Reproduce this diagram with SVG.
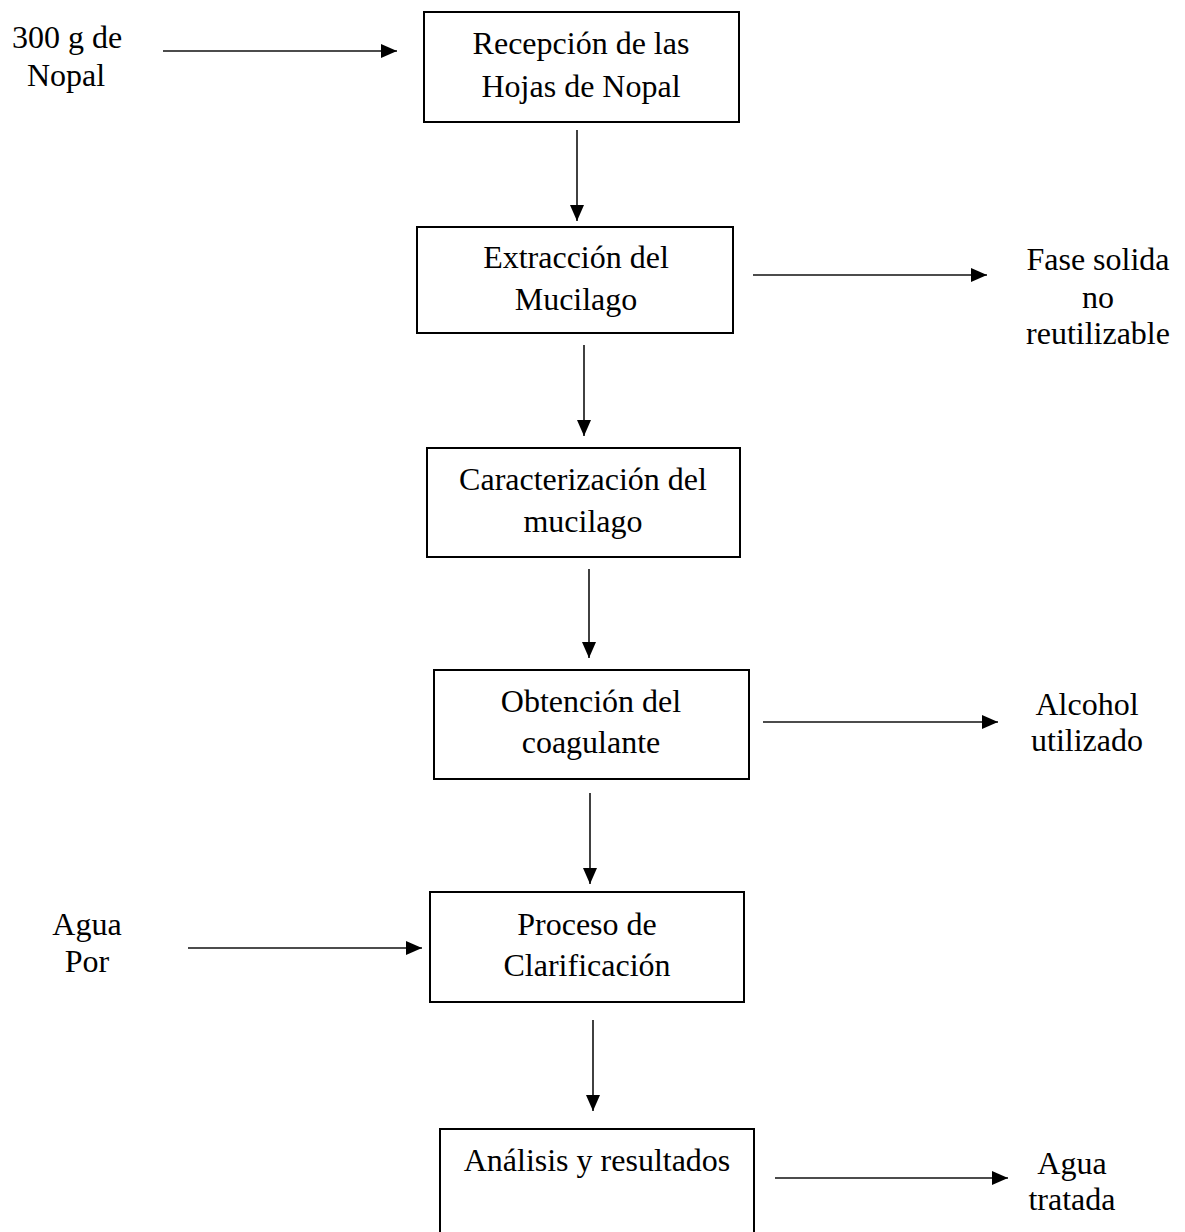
<svg xmlns="http://www.w3.org/2000/svg" width="1185" height="1232" viewBox="0 0 1185 1232">
<defs>
<style>
.box{fill:#fff;stroke:#000;stroke-width:2}
.ln{stroke:#111;stroke-width:1.6;fill:none}
text{font-family:"Liberation Serif","Times New Roman",serif;font-size:32px;fill:#000;text-anchor:middle}
</style>
<marker id="ah" markerUnits="userSpaceOnUse" markerWidth="18" markerHeight="18" viewBox="0 0 18 18" refX="17" refY="9" orient="auto">
<path d="M1,2 L17,9 L1,16 Z" fill="#000"/>
</marker>
</defs>
<rect width="1185" height="1232" fill="#fff"/>
<g id="connectors">
<line class="ln" x1="163" y1="51" x2="397" y2="51" marker-end="url(#ah)"/>
<line class="ln" x1="577" y1="130" x2="577" y2="221" marker-end="url(#ah)"/>
<line class="ln" x1="753" y1="275" x2="987" y2="275" marker-end="url(#ah)"/>
<line class="ln" x1="584" y1="345" x2="584" y2="436" marker-end="url(#ah)"/>
<line class="ln" x1="589" y1="569" x2="589" y2="658" marker-end="url(#ah)"/>
<line class="ln" x1="763" y1="722" x2="998" y2="722" marker-end="url(#ah)"/>
<line class="ln" x1="590" y1="793" x2="590" y2="884" marker-end="url(#ah)"/>
<line class="ln" x1="188" y1="948" x2="422" y2="948" marker-end="url(#ah)"/>
<line class="ln" x1="593" y1="1020" x2="593" y2="1111" marker-end="url(#ah)"/>
<line class="ln" x1="775" y1="1178" x2="1008" y2="1178" marker-end="url(#ah)"/>
</g>
<g id="in-nopal"><text x="67" y="48">300 g de</text><text x="66" y="86">Nopal</text></g>
<g id="n1"><rect class="box" x="424" y="12" width="315" height="110"/><text x="581" y="54">Recepción de las</text><text x="581" y="97">Hojas de Nopal</text></g>
<g id="n2"><rect class="box" x="417" y="227" width="316" height="106"/><text x="576" y="268">Extracción del</text><text x="576" y="310">Mucilago</text></g>
<g id="out-fase"><text x="1098" y="270">Fase solida</text><text x="1098" y="308">no</text><text x="1098" y="344">reutilizable</text></g>
<g id="n3"><rect class="box" x="427" y="448" width="313" height="109"/><text x="583" y="490">Caracterización del</text><text x="583" y="532">mucilago</text></g>
<g id="n4"><rect class="box" x="434" y="670" width="315" height="109"/><text x="591" y="712">Obtención del</text><text x="591" y="753">coagulante</text></g>
<g id="out-alcohol"><text x="1087" y="715">Alcohol</text><text x="1087" y="751">utilizado</text></g>
<g id="in-agua"><text x="87" y="935">Agua</text><text x="87" y="972">Por</text></g>
<g id="n5"><rect class="box" x="430" y="892" width="314" height="110"/><text x="587" y="935">Proceso de</text><text x="587" y="976">Clarificación</text></g>
<g id="n6"><rect class="box" x="440" y="1129" width="314" height="120"/><text x="597" y="1171">Análisis y resultados</text></g>
<g id="out-agua"><text x="1072" y="1174">Agua</text><text x="1072" y="1210">tratada</text></g>
</svg>
